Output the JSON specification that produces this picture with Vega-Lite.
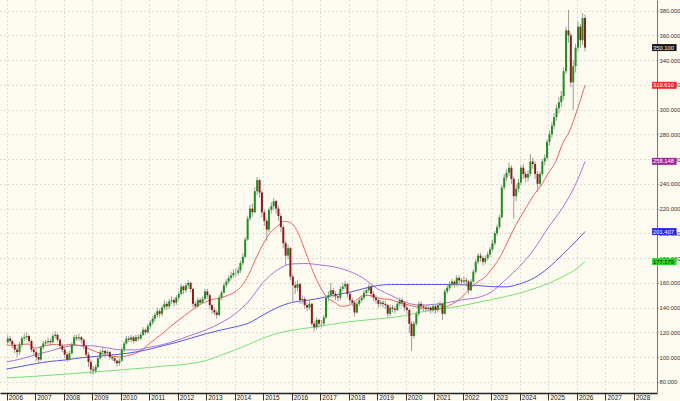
{
"$schema": "https://vega.github.io/schema/vega-lite/v6.json",
"width": 657, "height": 393,
"autosize": {"type": "none"},
"padding": {"left": 0, "top": 0, "right": 23, "bottom": 8},
"background": "#fdfbf0",
"config": {"view": {"stroke": null}, "font": "Liberation Sans",
"axisX": {"labelAlign": "left", "labelBaseline": "top", "labelOffset": 1.5, "labelPadding": -6, "labelFontSize": 6.5, "labelColor": "#222", "tickSize": 7, "tickColor": "#333", "domainColor": "#222", "domainWidth": 1.5, "grid": true, "gridColor": "#bdbdbd", "gridDash": [1, 3], "labelOverlap": false, "labelFlush": false},
"axisY": {"labelFontSize": 5.8, "labelColor": "#333", "labelPadding": 1, "tickSize": 1, "tickColor": "#777", "domainColor": "#777", "grid": true, "gridColor": "#bdbdbd", "gridDash": [1, 3], "labelOverlap": false, "labelFlush": false}},
"resolve": {"scale": {"color": "independent"}},
"datasets": {
"ohlc": [
{"d":"2006-01-15","o":112,"h":118,"l":110,"c":115},{"d":"2006-02-15","o":115,"h":117,"l":111,"c":113},{"d":"2006-03-15","o":113,"h":114,"l":107,"c":110},{"d":"2006-04-15","o":110,"h":111,"l":103,"c":106},{"d":"2006-05-15","o":106,"h":108,"l":100,"c":104},{"d":"2006-06-15","o":104,"h":112,"l":102,"c":110},{"d":"2006-07-15","o":110,"h":117,"l":108,"c":115},{"d":"2006-08-15","o":115,"h":119,"l":113,"c":116},{"d":"2006-09-15","o":116,"h":120,"l":114,"c":117},{"d":"2006-10-15","o":117,"h":118,"l":111,"c":113},{"d":"2006-11-15","o":113,"h":114,"l":104,"c":106},{"d":"2006-12-15","o":106,"h":108,"l":101,"c":104},
{"d":"2007-01-15","o":104,"h":106,"l":97,"c":100},{"d":"2007-02-15","o":100,"h":102,"l":95,"c":98},{"d":"2007-03-15","o":98,"h":109,"l":97,"c":108},{"d":"2007-04-15","o":108,"h":113,"l":106,"c":111},{"d":"2007-05-15","o":111,"h":114,"l":109,"c":112},{"d":"2007-06-15","o":112,"h":116,"l":110,"c":113},{"d":"2007-07-15","o":113,"h":115,"l":109,"c":112},{"d":"2007-08-15","o":112,"h":119,"l":111,"c":117},{"d":"2007-09-15","o":117,"h":121,"l":115,"c":118},{"d":"2007-10-15","o":118,"h":119,"l":112,"c":114},{"d":"2007-11-15","o":114,"h":115,"l":107,"c":109},{"d":"2007-12-15","o":109,"h":111,"l":104,"c":106},
{"d":"2008-01-15","o":106,"h":108,"l":99,"c":102},{"d":"2008-02-15","o":102,"h":104,"l":96,"c":98},{"d":"2008-03-15","o":98,"h":105,"l":97,"c":103},{"d":"2008-04-15","o":103,"h":112,"l":102,"c":110},{"d":"2008-05-15","o":110,"h":118,"l":109,"c":116},{"d":"2008-06-15","o":116,"h":118,"l":113,"c":115},{"d":"2008-07-15","o":115,"h":119,"l":113,"c":116},{"d":"2008-08-15","o":116,"h":117,"l":111,"c":114},{"d":"2008-09-15","o":114,"h":115,"l":106,"c":109},{"d":"2008-10-15","o":109,"h":110,"l":99,"c":102},{"d":"2008-11-15","o":102,"h":104,"l":92,"c":96},{"d":"2008-12-15","o":96,"h":98,"l":86,"c":90},
{"d":"2009-01-15","o":90,"h":93,"l":86,"c":89},{"d":"2009-02-15","o":89,"h":94,"l":87,"c":92},{"d":"2009-03-15","o":92,"h":101,"l":91,"c":99},{"d":"2009-04-15","o":99,"h":106,"l":98,"c":104},{"d":"2009-05-15","o":104,"h":108,"l":102,"c":105},{"d":"2009-06-15","o":105,"h":106,"l":100,"c":103},{"d":"2009-07-15","o":103,"h":106,"l":101,"c":104},{"d":"2009-08-15","o":104,"h":105,"l":98,"c":100},{"d":"2009-09-15","o":100,"h":102,"l":97,"c":99},{"d":"2009-10-15","o":99,"h":100,"l":95,"c":97},{"d":"2009-11-15","o":97,"h":98,"l":92,"c":95},{"d":"2009-12-15","o":95,"h":99,"l":93,"c":97},
{"d":"2010-01-15","o":97,"h":108,"l":96,"c":106},{"d":"2010-02-15","o":106,"h":113,"l":104,"c":111},{"d":"2010-03-15","o":111,"h":117,"l":110,"c":115},{"d":"2010-04-15","o":115,"h":117,"l":112,"c":114},{"d":"2010-05-15","o":114,"h":118,"l":112,"c":116},{"d":"2010-06-15","o":116,"h":117,"l":111,"c":113},{"d":"2010-07-15","o":113,"h":118,"l":112,"c":116},{"d":"2010-08-15","o":116,"h":118,"l":113,"c":115},{"d":"2010-09-15","o":115,"h":120,"l":114,"c":118},{"d":"2010-10-15","o":118,"h":124,"l":117,"c":122},{"d":"2010-11-15","o":122,"h":123,"l":118,"c":120},{"d":"2010-12-15","o":120,"h":127,"l":119,"c":125},
{"d":"2011-01-15","o":125,"h":130,"l":123,"c":128},{"d":"2011-02-15","o":128,"h":133,"l":126,"c":131},{"d":"2011-03-15","o":131,"h":136,"l":129,"c":134},{"d":"2011-04-15","o":134,"h":140,"l":132,"c":137},{"d":"2011-05-15","o":137,"h":139,"l":132,"c":135},{"d":"2011-06-15","o":135,"h":142,"l":133,"c":140},{"d":"2011-07-15","o":140,"h":146,"l":138,"c":143},{"d":"2011-08-15","o":143,"h":145,"l":138,"c":141},{"d":"2011-09-15","o":141,"h":147,"l":139,"c":145},{"d":"2011-10-15","o":145,"h":149,"l":143,"c":146},{"d":"2011-11-15","o":146,"h":148,"l":141,"c":144},{"d":"2011-12-15","o":144,"h":150,"l":142,"c":148},
{"d":"2012-01-15","o":148,"h":153,"l":146,"c":151},{"d":"2012-02-15","o":151,"h":159,"l":150,"c":157},{"d":"2012-03-15","o":157,"h":158,"l":151,"c":154},{"d":"2012-04-15","o":154,"h":160,"l":152,"c":158},{"d":"2012-05-15","o":158,"h":162,"l":155,"c":160},{"d":"2012-06-15","o":160,"h":161,"l":152,"c":155},{"d":"2012-07-15","o":155,"h":156,"l":140,"c":143},{"d":"2012-08-15","o":143,"h":145,"l":139,"c":141},{"d":"2012-09-15","o":141,"h":148,"l":140,"c":146},{"d":"2012-10-15","o":146,"h":148,"l":142,"c":144},{"d":"2012-11-15","o":144,"h":149,"l":143,"c":147},{"d":"2012-12-15","o":147,"h":155,"l":146,"c":153},
{"d":"2013-01-15","o":153,"h":155,"l":147,"c":150},{"d":"2013-02-15","o":150,"h":151,"l":139,"c":142},{"d":"2013-03-15","o":142,"h":143,"l":135,"c":138},{"d":"2013-04-15","o":138,"h":140,"l":134,"c":136},{"d":"2013-05-15","o":136,"h":138,"l":131,"c":134},{"d":"2013-06-15","o":134,"h":150,"l":133,"c":148},{"d":"2013-07-15","o":148,"h":154,"l":146,"c":152},{"d":"2013-08-15","o":152,"h":160,"l":151,"c":158},{"d":"2013-09-15","o":158,"h":163,"l":156,"c":161},{"d":"2013-10-15","o":161,"h":166,"l":159,"c":164},{"d":"2013-11-15","o":164,"h":169,"l":162,"c":166},{"d":"2013-12-15","o":166,"h":171,"l":164,"c":168},
{"d":"2014-01-15","o":168,"h":172,"l":165,"c":168},{"d":"2014-02-15","o":168,"h":173,"l":166,"c":170},{"d":"2014-03-15","o":170,"h":178,"l":168,"c":176},{"d":"2014-04-15","o":176,"h":184,"l":174,"c":181},{"d":"2014-05-15","o":181,"h":197,"l":180,"c":195},{"d":"2014-06-15","o":195,"h":214,"l":194,"c":212},{"d":"2014-07-15","o":212,"h":223,"l":210,"c":220},{"d":"2014-08-15","o":220,"h":224,"l":213,"c":217},{"d":"2014-09-15","o":217,"h":237,"l":216,"c":234},{"d":"2014-10-15","o":234,"h":245.5,"l":231,"c":243},{"d":"2014-11-15","o":243,"h":244,"l":229,"c":233},{"d":"2014-12-15","o":233,"h":235,"l":213,"c":217},
{"d":"2015-01-15","o":217,"h":219,"l":206,"c":210},{"d":"2015-02-15","o":210,"h":212,"l":194,"c":203},{"d":"2015-03-15","o":203,"h":221,"l":201,"c":219},{"d":"2015-04-15","o":219,"h":225,"l":216,"c":222},{"d":"2015-05-15","o":222,"h":228.6,"l":219,"c":226},{"d":"2015-06-15","o":226,"h":227,"l":216,"c":220},{"d":"2015-07-15","o":220,"h":222,"l":210,"c":214},{"d":"2015-08-15","o":214,"h":216,"l":201,"c":205},{"d":"2015-09-15","o":205,"h":207,"l":188,"c":192},{"d":"2015-10-15","o":192,"h":194,"l":174.5,"c":182},{"d":"2015-11-15","o":182,"h":191,"l":179,"c":188},{"d":"2015-12-15","o":188,"h":189,"l":162,"c":165},
{"d":"2016-01-15","o":165,"h":167,"l":144,"c":158},{"d":"2016-02-15","o":158,"h":161,"l":151,"c":156},{"d":"2016-03-15","o":156,"h":162,"l":153,"c":159},{"d":"2016-04-15","o":159,"h":160,"l":143,"c":146},{"d":"2016-05-15","o":146,"h":150,"l":143,"c":147},{"d":"2016-06-15","o":147,"h":149,"l":139,"c":142},{"d":"2016-07-15","o":142,"h":144,"l":137,"c":140},{"d":"2016-08-15","o":140,"h":146,"l":138,"c":143},{"d":"2016-09-15","o":143,"h":144,"l":125,"c":127},{"d":"2016-10-15","o":127,"h":129,"l":120.7,"c":124},{"d":"2016-11-15","o":124,"h":132,"l":122,"c":130},{"d":"2016-12-15","o":130,"h":131,"l":124,"c":127},
{"d":"2017-01-15","o":127,"h":130,"l":124,"c":127},{"d":"2017-02-15","o":127,"h":134,"l":125,"c":132},{"d":"2017-03-15","o":132,"h":150,"l":131,"c":148},{"d":"2017-04-15","o":148,"h":153,"l":145,"c":150},{"d":"2017-05-15","o":150,"h":160,"l":148,"c":154},{"d":"2017-06-15","o":154,"h":156,"l":148,"c":151},{"d":"2017-07-15","o":151,"h":153,"l":146,"c":149},{"d":"2017-08-15","o":149,"h":151,"l":145,"c":148},{"d":"2017-09-15","o":148,"h":157,"l":146,"c":155},{"d":"2017-10-15","o":155,"h":160,"l":153,"c":157},{"d":"2017-11-15","o":157,"h":161.6,"l":155,"c":159},{"d":"2017-12-15","o":159,"h":160,"l":148,"c":151},
{"d":"2018-01-15","o":151,"h":153,"l":143,"c":146},{"d":"2018-02-15","o":146,"h":148,"l":141,"c":144},{"d":"2018-03-15","o":144,"h":145,"l":133,"c":136},{"d":"2018-04-15","o":136,"h":145,"l":135,"c":143},{"d":"2018-05-15","o":143,"h":148,"l":141,"c":146},{"d":"2018-06-15","o":146,"h":150,"l":144,"c":148},{"d":"2018-07-15","o":148,"h":154,"l":146,"c":152},{"d":"2018-08-15","o":152,"h":156,"l":150,"c":154},{"d":"2018-09-15","o":154,"h":159,"l":152,"c":157},{"d":"2018-10-15","o":157,"h":158,"l":148,"c":151},{"d":"2018-11-15","o":151,"h":153,"l":145,"c":148},{"d":"2018-12-15","o":148,"h":150,"l":143,"c":146},
{"d":"2019-01-15","o":146,"h":148,"l":140,"c":143},{"d":"2019-02-15","o":143,"h":146,"l":141,"c":144},{"d":"2019-03-15","o":144,"h":146,"l":140,"c":143},{"d":"2019-04-15","o":143,"h":145,"l":139,"c":142},{"d":"2019-05-15","o":142,"h":143,"l":132,"c":135},{"d":"2019-06-15","o":135,"h":142,"l":133,"c":140},{"d":"2019-07-15","o":140,"h":142,"l":136,"c":139},{"d":"2019-08-15","o":139,"h":141,"l":135,"c":138},{"d":"2019-09-15","o":138,"h":145,"l":137,"c":143},{"d":"2019-10-15","o":143,"h":148,"l":141,"c":146},{"d":"2019-11-15","o":146,"h":148,"l":141,"c":144},{"d":"2019-12-15","o":144,"h":145,"l":137,"c":140},
{"d":"2020-01-15","o":140,"h":142,"l":135,"c":138},{"d":"2020-02-15","o":138,"h":139,"l":119.6,"c":127},{"d":"2020-03-15","o":127,"h":129,"l":105,"c":117},{"d":"2020-04-15","o":117,"h":129,"l":115,"c":127},{"d":"2020-05-15","o":127,"h":137,"l":125,"c":135},{"d":"2020-06-15","o":135,"h":145,"l":133,"c":143},{"d":"2020-07-15","o":143,"h":145,"l":138,"c":141},{"d":"2020-08-15","o":141,"h":143,"l":137,"c":140},{"d":"2020-09-15","o":140,"h":142,"l":136,"c":139},{"d":"2020-10-15","o":139,"h":142,"l":137,"c":140},{"d":"2020-11-15","o":140,"h":141,"l":135,"c":138},{"d":"2020-12-15","o":138,"h":143,"l":136,"c":141},
{"d":"2021-01-15","o":141,"h":142,"l":135,"c":138},{"d":"2021-02-15","o":138,"h":144,"l":136,"c":142},{"d":"2021-03-15","o":142,"h":145,"l":140,"c":143},{"d":"2021-04-15","o":143,"h":144,"l":130,"c":135},{"d":"2021-05-15","o":135,"h":155,"l":134,"c":153},{"d":"2021-06-15","o":153,"h":158,"l":151,"c":156},{"d":"2021-07-15","o":156,"h":161,"l":154,"c":159},{"d":"2021-08-15","o":159,"h":163,"l":157,"c":161},{"d":"2021-09-15","o":161,"h":162,"l":156,"c":159},{"d":"2021-10-15","o":159,"h":166,"l":157,"c":164},{"d":"2021-11-15","o":164,"h":166,"l":159,"c":162},{"d":"2021-12-15","o":162,"h":164,"l":158,"c":161},
{"d":"2022-01-15","o":161,"h":165,"l":158,"c":162},{"d":"2022-02-15","o":162,"h":164,"l":157,"c":161},{"d":"2022-03-15","o":161,"h":162,"l":151,"c":154},{"d":"2022-04-15","o":154,"h":163,"l":153,"c":161},{"d":"2022-05-15","o":161,"h":171,"l":160,"c":169},{"d":"2022-06-15","o":169,"h":179,"l":167,"c":177},{"d":"2022-07-15","o":177,"h":184,"l":175,"c":182},{"d":"2022-08-15","o":182,"h":184,"l":177,"c":180},{"d":"2022-09-15","o":180,"h":182,"l":174,"c":177},{"d":"2022-10-15","o":177,"h":182,"l":175,"c":180},{"d":"2022-11-15","o":180,"h":185,"l":178,"c":183},{"d":"2022-12-15","o":183,"h":189,"l":181,"c":187},
{"d":"2023-01-15","o":187,"h":195,"l":185,"c":192},{"d":"2023-02-15","o":192,"h":202,"l":190,"c":200},{"d":"2023-03-15","o":200,"h":207,"l":198,"c":205},{"d":"2023-04-15","o":205,"h":215,"l":203,"c":213},{"d":"2023-05-15","o":213,"h":239,"l":212,"c":237},{"d":"2023-06-15","o":237,"h":248,"l":235,"c":245},{"d":"2023-07-15","o":245,"h":252,"l":242,"c":249},{"d":"2023-08-15","o":249,"h":257,"l":246,"c":253},{"d":"2023-09-15","o":253,"h":255,"l":240,"c":244},{"d":"2023-10-15","o":244,"h":246,"l":212,"c":230},{"d":"2023-11-15","o":230,"h":239,"l":226,"c":236},{"d":"2023-12-15","o":236,"h":244,"l":233,"c":241},
{"d":"2024-01-15","o":241,"h":255,"l":239,"c":253},{"d":"2024-02-15","o":253,"h":256,"l":244,"c":248},{"d":"2024-03-15","o":248,"h":250,"l":241,"c":245},{"d":"2024-04-15","o":245,"h":251,"l":242,"c":248},{"d":"2024-05-15","o":248,"h":264,"l":246,"c":258},{"d":"2024-06-15","o":258,"h":261,"l":252,"c":256},{"d":"2024-07-15","o":256,"h":258,"l":244,"c":248},{"d":"2024-08-15","o":248,"h":250,"l":233.6,"c":240},{"d":"2024-09-15","o":240,"h":250,"l":238,"c":248},{"d":"2024-10-15","o":248,"h":260,"l":246,"c":258},{"d":"2024-11-15","o":258,"h":264,"l":255,"c":261},{"d":"2024-12-15","o":261,"h":276,"l":259,"c":274},
{"d":"2025-01-15","o":274,"h":283,"l":271,"c":280},{"d":"2025-02-15","o":280,"h":290,"l":277,"c":287},{"d":"2025-03-15","o":287,"h":297,"l":284,"c":294},{"d":"2025-04-15","o":294,"h":304,"l":291,"c":301},{"d":"2025-05-15","o":301,"h":310,"l":297,"c":306},{"d":"2025-06-15","o":306,"h":315,"l":302,"c":311},{"d":"2025-07-15","o":311,"h":334,"l":308,"c":331},{"d":"2025-08-15","o":331,"h":367,"l":329,"c":364},{"d":"2025-09-15","o":364,"h":380.5,"l":354,"c":360},{"d":"2025-10-15","o":360,"h":362,"l":318,"c":322},{"d":"2025-11-15","o":322,"h":340,"l":300,"c":335},{"d":"2025-12-15","o":335,"h":353,"l":330,"c":350},
{"d":"2026-01-15","o":350,"h":371,"l":347,"c":367},{"d":"2026-02-15","o":367,"h":369,"l":350,"c":356},{"d":"2026-03-15","o":356,"h":378,"l":352,"c":374},{"d":"2026-04-15","o":374,"h":377,"l":347,"c":350.1}
],
"ma": [
{"d":"2006-01-01","s":"r","v":110},{"d":"2006-04-01","s":"r","v":109.2},{"d":"2006-07-01","s":"r","v":110.2},{"d":"2006-10-01","s":"r","v":110.5},{"d":"2007-01-01","s":"r","v":107.2},{"d":"2007-04-01","s":"r","v":108.6},{"d":"2007-07-01","s":"r","v":109.8},{"d":"2007-10-01","s":"r","v":110.3},{"d":"2008-01-01","s":"r","v":109.5},{"d":"2008-04-01","s":"r","v":110.2},{"d":"2008-07-01","s":"r","v":109.6},{"d":"2008-10-01","s":"r","v":108},{"d":"2009-01-01","s":"r","v":105.5},{"d":"2009-04-01","s":"r","v":103.3},{"d":"2009-07-01","s":"r","v":101.8},{"d":"2009-10-01","s":"r","v":100.5},{"d":"2010-01-01","s":"r","v":100.1},{"d":"2010-04-01","s":"r","v":101.2},{"d":"2010-07-01","s":"r","v":102.8},{"d":"2010-10-01","s":"r","v":105.7},{"d":"2011-01-01","s":"r","v":110.8},{"d":"2011-04-01","s":"r","v":115.2},{"d":"2011-07-01","s":"r","v":119.6},{"d":"2011-10-01","s":"r","v":124.7},{"d":"2012-01-01","s":"r","v":129.3},{"d":"2012-04-01","s":"r","v":133.6},{"d":"2012-07-01","s":"r","v":137.9},{"d":"2012-10-01","s":"r","v":142},{"d":"2013-01-01","s":"r","v":144.8},{"d":"2013-04-01","s":"r","v":146.7},{"d":"2013-07-01","s":"r","v":147.8},{"d":"2013-10-01","s":"r","v":149.8},{"d":"2014-01-01","s":"r","v":152.5},{"d":"2014-04-01","s":"r","v":157.5},{"d":"2014-07-01","s":"r","v":167},{"d":"2014-10-01","s":"r","v":180},{"d":"2015-01-01","s":"r","v":191.5},{"d":"2015-04-01","s":"r","v":200.5},{"d":"2015-07-01","s":"r","v":205.7},{"d":"2015-10-01","s":"r","v":209.7},{"d":"2016-01-01","s":"r","v":208},{"d":"2016-04-01","s":"r","v":199},{"d":"2016-07-01","s":"r","v":184},{"d":"2016-10-01","s":"r","v":169},{"d":"2017-01-01","s":"r","v":156.5},{"d":"2017-04-01","s":"r","v":148},{"d":"2017-07-01","s":"r","v":144.4},{"d":"2017-10-01","s":"r","v":141},{"d":"2018-01-01","s":"r","v":141.8},{"d":"2018-04-01","s":"r","v":145.8},{"d":"2018-07-01","s":"r","v":149.5},{"d":"2018-10-01","s":"r","v":149.8},{"d":"2019-01-01","s":"r","v":147.8},{"d":"2019-04-01","s":"r","v":147},{"d":"2019-07-01","s":"r","v":146.3},{"d":"2019-10-01","s":"r","v":144.1},{"d":"2020-01-01","s":"r","v":142.7},{"d":"2020-04-01","s":"r","v":141.2},{"d":"2020-07-01","s":"r","v":139.9},{"d":"2020-10-01","s":"r","v":139.1},{"d":"2021-01-01","s":"r","v":139},{"d":"2021-04-01","s":"r","v":139.3},{"d":"2021-07-01","s":"r","v":141.4},{"d":"2021-10-01","s":"r","v":144.4},{"d":"2022-01-01","s":"r","v":149.3},{"d":"2022-04-01","s":"r","v":155.3},{"d":"2022-07-01","s":"r","v":160.5},{"d":"2022-10-01","s":"r","v":164},{"d":"2023-01-01","s":"r","v":170.8},{"d":"2023-04-01","s":"r","v":178.6},{"d":"2023-07-01","s":"r","v":189.5},{"d":"2023-10-01","s":"r","v":201.7},{"d":"2024-01-01","s":"r","v":212.4},{"d":"2024-04-01","s":"r","v":221.9},{"d":"2024-07-01","s":"r","v":231.2},{"d":"2024-10-01","s":"r","v":238.8},{"d":"2025-01-01","s":"r","v":248.7},{"d":"2025-04-01","s":"r","v":257.5},{"d":"2025-07-01","s":"r","v":272.5},{"d":"2025-10-01","s":"r","v":282.8},{"d":"2026-01-01","s":"r","v":299},{"d":"2026-04-15","s":"r","v":319.6},
{"d":"2006-01-01","s":"p","v":96.2},{"d":"2006-07-01","s":"p","v":98.4},{"d":"2007-01-01","s":"p","v":101.8},{"d":"2007-07-01","s":"p","v":104.7},{"d":"2008-01-01","s":"p","v":108},{"d":"2008-07-01","s":"p","v":109.4},{"d":"2009-01-01","s":"p","v":109.1},{"d":"2009-07-01","s":"p","v":107.6},{"d":"2010-01-01","s":"p","v":105.8},{"d":"2010-07-01","s":"p","v":105.8},{"d":"2011-01-01","s":"p","v":107.9},{"d":"2011-07-01","s":"p","v":110.2},{"d":"2012-01-01","s":"p","v":113.8},{"d":"2012-07-01","s":"p","v":117.9},{"d":"2013-01-01","s":"p","v":122},{"d":"2013-07-01","s":"p","v":127.5},{"d":"2014-01-01","s":"p","v":134.6},{"d":"2014-07-01","s":"p","v":145.3},{"d":"2015-01-01","s":"p","v":160.4},{"d":"2015-07-01","s":"p","v":170.4},{"d":"2016-01-01","s":"p","v":175.3},{"d":"2016-07-01","s":"p","v":175.6},{"d":"2017-01-01","s":"p","v":174.4},{"d":"2017-07-01","s":"p","v":172.8},{"d":"2018-01-01","s":"p","v":169.5},{"d":"2018-07-01","s":"p","v":163.9},{"d":"2019-01-01","s":"p","v":155.3},{"d":"2019-07-01","s":"p","v":149.7},{"d":"2020-01-01","s":"p","v":144.2},{"d":"2020-07-01","s":"p","v":142},{"d":"2021-01-01","s":"p","v":142.6},{"d":"2021-07-01","s":"p","v":144.1},{"d":"2022-01-01","s":"p","v":146.4},{"d":"2022-07-01","s":"p","v":147.9},{"d":"2023-01-01","s":"p","v":152.6},{"d":"2023-07-01","s":"p","v":162.5},{"d":"2024-01-01","s":"p","v":173.4},{"d":"2024-07-01","s":"p","v":187.2},{"d":"2025-01-01","s":"p","v":204.9},{"d":"2025-07-01","s":"p","v":220.6},{"d":"2026-01-01","s":"p","v":241.9},{"d":"2026-04-15","s":"p","v":258.1},
{"d":"2006-01-01","s":"b","v":90.3},{"d":"2006-07-01","s":"b","v":92.4},{"d":"2007-01-01","s":"b","v":94.6},{"d":"2007-07-01","s":"b","v":96.4},{"d":"2008-01-01","s":"b","v":97.5},{"d":"2008-07-01","s":"b","v":99.1},{"d":"2009-01-01","s":"b","v":100.3},{"d":"2009-07-01","s":"b","v":101.2},{"d":"2010-01-01","s":"b","v":102.4},{"d":"2010-07-01","s":"b","v":104},{"d":"2011-01-01","s":"b","v":106.3},{"d":"2011-07-01","s":"b","v":109.2},{"d":"2012-01-01","s":"b","v":112.1},{"d":"2012-07-01","s":"b","v":115.5},{"d":"2013-01-01","s":"b","v":118.9},{"d":"2013-07-01","s":"b","v":121.8},{"d":"2014-01-01","s":"b","v":124.3},{"d":"2014-07-01","s":"b","v":127.5},{"d":"2015-01-01","s":"b","v":134.1},{"d":"2015-07-01","s":"b","v":140},{"d":"2016-01-01","s":"b","v":144.1},{"d":"2016-07-01","s":"b","v":145.7},{"d":"2017-01-01","s":"b","v":147.6},{"d":"2017-07-01","s":"b","v":150.2},{"d":"2018-01-01","s":"b","v":152.2},{"d":"2018-07-01","s":"b","v":155.2},{"d":"2019-01-01","s":"b","v":157.8},{"d":"2019-07-01","s":"b","v":158.6},{"d":"2020-01-01","s":"b","v":158.6},{"d":"2020-07-01","s":"b","v":158.6},{"d":"2021-01-01","s":"b","v":158.6},{"d":"2021-07-01","s":"b","v":158.6},{"d":"2022-01-01","s":"b","v":158.4},{"d":"2022-07-01","s":"b","v":157.9},{"d":"2023-01-01","s":"b","v":156.9},{"d":"2023-07-01","s":"b","v":156.7},{"d":"2024-01-01","s":"b","v":159.2},{"d":"2024-07-01","s":"b","v":163.9},{"d":"2025-01-01","s":"b","v":172.1},{"d":"2025-07-01","s":"b","v":182.9},{"d":"2026-01-01","s":"b","v":194.4},{"d":"2026-04-15","s":"b","v":201.4},
{"d":"2006-01-01","s":"g","v":83.1},{"d":"2006-07-01","s":"g","v":83.8},{"d":"2007-01-01","s":"g","v":84.5},{"d":"2007-07-01","s":"g","v":85.3},{"d":"2008-01-01","s":"g","v":86.1},{"d":"2008-07-01","s":"g","v":87},{"d":"2009-01-01","s":"g","v":87.9},{"d":"2009-07-01","s":"g","v":88.7},{"d":"2010-01-01","s":"g","v":89.6},{"d":"2010-07-01","s":"g","v":90.6},{"d":"2011-01-01","s":"g","v":91.5},{"d":"2011-07-01","s":"g","v":92.7},{"d":"2012-01-01","s":"g","v":93.5},{"d":"2012-07-01","s":"g","v":94.9},{"d":"2013-01-01","s":"g","v":97.2},{"d":"2013-07-01","s":"g","v":101.3},{"d":"2014-01-01","s":"g","v":105.7},{"d":"2014-07-01","s":"g","v":110.3},{"d":"2015-01-01","s":"g","v":115.3},{"d":"2015-07-01","s":"g","v":119.2},{"d":"2016-01-01","s":"g","v":121.6},{"d":"2016-07-01","s":"g","v":123.3},{"d":"2017-01-01","s":"g","v":125},{"d":"2017-07-01","s":"g","v":126.8},{"d":"2018-01-01","s":"g","v":128.5},{"d":"2018-07-01","s":"g","v":129.7},{"d":"2019-01-01","s":"g","v":130.8},{"d":"2019-07-01","s":"g","v":131.9},{"d":"2020-01-01","s":"g","v":133.7},{"d":"2020-07-01","s":"g","v":136.3},{"d":"2021-01-01","s":"g","v":138},{"d":"2021-07-01","s":"g","v":139.7},{"d":"2022-01-01","s":"g","v":141.6},{"d":"2022-07-01","s":"g","v":144},{"d":"2023-01-01","s":"g","v":146.4},{"d":"2023-07-01","s":"g","v":148.9},{"d":"2024-01-01","s":"g","v":151.7},{"d":"2024-07-01","s":"g","v":155.3},{"d":"2025-01-01","s":"g","v":159.5},{"d":"2025-07-01","s":"g","v":164.8},{"d":"2026-01-01","s":"g","v":171.7},{"d":"2026-04-15","s":"g","v":177.2}
],
"lab": [
{"k":"c","v":350.1,"t":"350.100"},
{"k":"r","v":319.61,"t":"319.610"},
{"k":"p","v":258.148,"t":"258.148"},
{"k":"b","v":201.407,"t":"201.407"},
{"k":"g","v":177.179,"t":"177.179"}
]
},
"layer": [
{
"data": {"name": "ma"},
"mark": {"type": "line", "strokeWidth": 1, "interpolate": "monotone"},
"encoding": {
"x": {"field": "d", "type": "temporal", "title": null,
"scale": {"type": "utc", "domain": [{"year": 2005, "month": 12, "date": 11, "utc": true}, {"year": 2028, "month": 8, "date": 20, "utc": true}]},
"axis": {"orient": "bottom", "tickCount": {"interval": "year", "step": 1}, "labelExpr": "utcFormat(datum.value, '%Y')"}},
"y": {"field": "v", "type": "quantitative", "title": null, "scale": {"domain": [75, 384.5], "nice": false, "zero": false}, "axis": {"orient": "right", "tickCount": 16, "format": ".3f"}},
"color": {"field": "s", "type": "nominal", "legend": null, "scale": {"domain": ["r", "p", "b", "g"], "range": ["#e86464", "#a874d4", "#5656e4", "#78e078"]}}
}
},
{
"data": {"name": "ohlc"},
"mark": {"type": "rule", "color": "#9c9c9c", "strokeWidth": 1},
"encoding": {
"x": {"field": "d", "type": "temporal", "title": null,
"scale": {"type": "utc", "domain": [{"year": 2005, "month": 12, "date": 11, "utc": true}, {"year": 2028, "month": 8, "date": 20, "utc": true}]},
"axis": {"orient": "bottom", "tickCount": {"interval": "year", "step": 1}, "labelExpr": "utcFormat(datum.value, '%Y')"}},
"y": {"field": "l", "type": "quantitative", "title": null, "scale": {"domain": [75, 384.5], "nice": false, "zero": false}, "axis": {"orient": "right", "tickCount": 16, "format": ".3f"}},
"y2": {"field": "h"}
}
},
{
"data": {"name": "ohlc"},
"mark": {"type": "bar", "width": 2},
"encoding": {
"x": {"field": "d", "type": "temporal", "title": null,
"scale": {"type": "utc", "domain": [{"year": 2005, "month": 12, "date": 11, "utc": true}, {"year": 2028, "month": 8, "date": 20, "utc": true}]},
"axis": {"orient": "bottom", "tickCount": {"interval": "year", "step": 1}, "labelExpr": "utcFormat(datum.value, '%Y')"}},
"y": {"field": "o", "type": "quantitative", "title": null, "scale": {"domain": [75, 384.5], "nice": false, "zero": false}, "axis": {"orient": "right", "tickCount": 16, "format": ".3f"}},
"y2": {"field": "c"},
"color": {"condition": {"test": "datum.c >= datum.o", "value": "#1f8f1f"}, "value": "#8c1c1c"}
}
},
{
"data": {"name": "lab"},
"mark": {"type": "bar", "height": 7},
"encoding": {
"x": {"datum": {"year": 2028, "month": 8, "date": 21, "utc": true}, "type": "temporal", "title": null,
"scale": {"type": "utc", "domain": [{"year": 2005, "month": 12, "date": 11, "utc": true}, {"year": 2028, "month": 8, "date": 20, "utc": true}]},
"axis": {"orient": "bottom", "tickCount": {"interval": "year", "step": 1}, "labelExpr": "utcFormat(datum.value, '%Y')"}},
"x2": {"datum": {"year": 2029, "month": 7, "date": 1, "utc": true}},
"y": {"field": "v", "type": "quantitative", "title": null, "scale": {"domain": [75, 384.5], "nice": false, "zero": false}, "axis": {"orient": "right", "tickCount": 16, "format": ".3f"}},
"color": {"field": "k", "type": "nominal", "legend": null, "scale": {"domain": ["c", "r", "p", "b", "g"], "range": ["#151515", "#f02828", "#9a2a9a", "#2a2af0", "#2ad42a"]}}
}
},
{
"data": {"name": "lab"},
"mark": {"type": "text", "align": "left", "baseline": "middle", "fontSize": 5.8, "dx": 1},
"encoding": {
"x": {"datum": {"year": 2028, "month": 8, "date": 21, "utc": true}, "type": "temporal", "title": null,
"scale": {"type": "utc", "domain": [{"year": 2005, "month": 12, "date": 11, "utc": true}, {"year": 2028, "month": 8, "date": 20, "utc": true}]},
"axis": {"orient": "bottom", "tickCount": {"interval": "year", "step": 1}, "labelExpr": "utcFormat(datum.value, '%Y')"}},
"y": {"field": "v", "type": "quantitative", "title": null, "scale": {"domain": [75, 384.5], "nice": false, "zero": false}, "axis": {"orient": "right", "tickCount": 16, "format": ".3f"}},
"text": {"field": "t"},
"color": {"condition": {"test": "datum.k == 'g'", "value": "#111111"}, "value": "#ffffff"}
}
},
{
"mark": {"type": "text", "align": "center", "baseline": "middle", "fontSize": 8, "font": "DejaVu Sans", "color": "#e02020", "text": "◄"},
"encoding": {
"x": {"datum": {"year": 2029, "month": 1, "date": 1, "utc": true}, "type": "temporal", "title": null,
"scale": {"type": "utc", "domain": [{"year": 2005, "month": 12, "date": 11, "utc": true}, {"year": 2028, "month": 8, "date": 20, "utc": true}]},
"axis": {"orient": "bottom", "tickCount": {"interval": "year", "step": 1}, "labelExpr": "utcFormat(datum.value, '%Y')"}},
"y": {"datum": 72.3, "type": "quantitative", "title": null, "scale": {"domain": [75, 384.5], "nice": false, "zero": false}, "axis": {"orient": "right", "tickCount": 16, "format": ".3f"}}
}
}
]
}
